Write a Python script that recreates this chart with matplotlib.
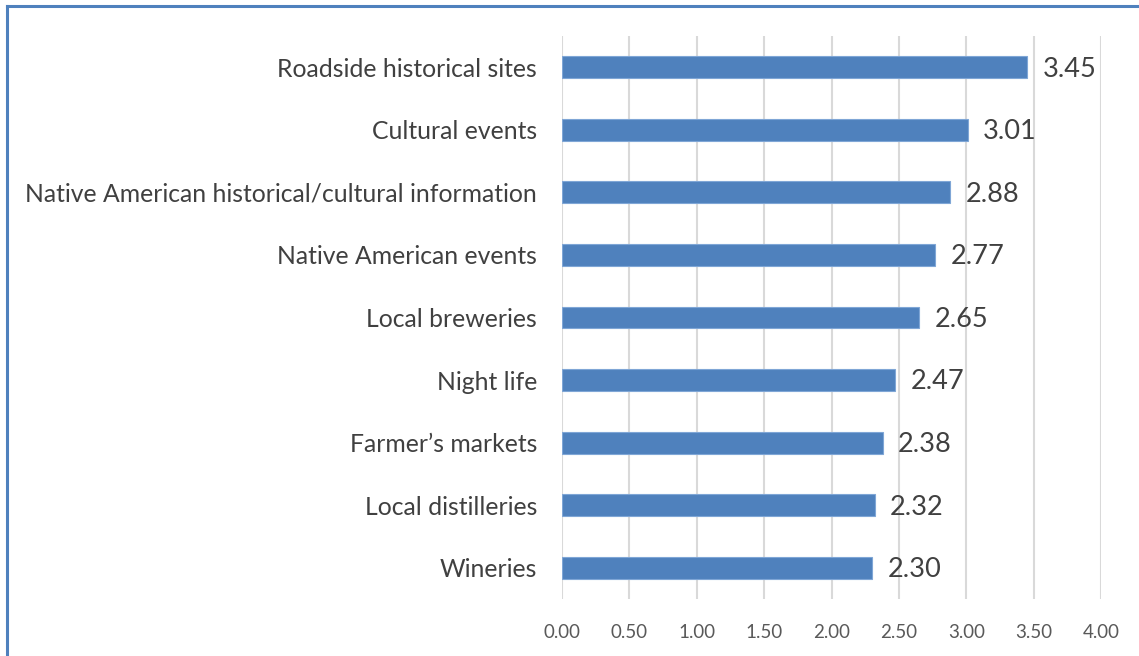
import matplotlib
matplotlib.use("Agg")
import matplotlib.pyplot as plt
from matplotlib.lines import Line2D

categories = ["Roadside historical sites", "Cultural events",
              "Native American historical/cultural information",
              "Native American events", "Local breweries", "Night life",
              "Farmer\u2019s markets", "Local distilleries", "Wineries"]
values = [3.45, 3.01, 2.88, 2.77, 2.65, 2.47, 2.38, 2.32, 2.30]
xticks = [0.0, 0.5, 1.0, 1.5, 2.0, 2.5, 3.0, 3.5, 4.0]

plt.rcParams['font.family'] = ['Lato', 'DejaVu Sans']

W, H = 1139, 656
fig = plt.figure(figsize=(W / 100, H / 100), dpi=100)
ax = fig.add_axes([562 / W, 1 - 599 / H, (1101 - 562) / W, (599 - 36) / H])

ypos = list(range(len(categories)))
ax.barh(ypos, values, height=0.35, color="#4F81BD", edgecolor="#7FA6D6",
        linewidth=0.8, zorder=3)
ax.set_ylim(len(categories) - 0.5, -0.5)
ax.set_xlim(0, 4.0)
ax.set_xticks(xticks)
ax.set_xticklabels([f"{t:.2f}" for t in xticks], fontsize=13.5, color="#595959")
ax.set_yticks(ypos)
ax.set_yticklabels(categories, fontsize=17.8, color="#404040")
ax.tick_params(axis="both", length=0)
ax.tick_params(axis="x", pad=18)
ax.tick_params(axis="y", pad=18)
ax.grid(axis="x", color="#D9D9D9", linewidth=1.5, zorder=0)
for s in ax.spines.values():
    s.set_visible(False)

for y, v in zip(ypos, values):
    ax.text(v + 0.115, y + 0.03, f"{v:.2f}", va="center", ha="left",
            fontsize=19.5, color="#404040")

# figure border
fig.add_artist(Line2D([7 / W, 7 / W], [0, 1 - 6 / H], transform=fig.transFigure,
                      color="#4F81BD", linewidth=2.2))
fig.add_artist(Line2D([7 / W, 1], [1 - 6 / H, 1 - 6 / H], transform=fig.transFigure,
                      color="#4F81BD", linewidth=2.2))

fig.savefig("out.png", dpi=100)
